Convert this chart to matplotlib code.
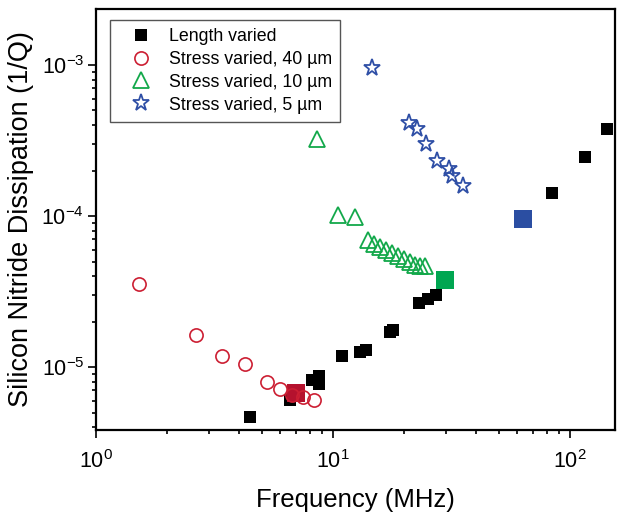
import numpy as np
import matplotlib
matplotlib.use("Agg")
import matplotlib.pyplot as plt
from matplotlib.ticker import FixedLocator, NullFormatter

plt.rcParams["font.family"] = ["Liberation Sans", "DejaVu Sans"]

# Length varied (black squares)
len_freq = [4.47, 6.6, 8.16, 8.73, 8.73, 10.9, 13.0, 13.8, 17.4, 17.9,
            23.1, 25.2, 27.2, 84, 116, 143]
len_diss = [4.67e-6, 6.04e-6, 8.2e-6, 8.7e-6, 7.7e-6, 1.18e-5, 1.26e-5, 1.30e-5,
            1.71e-5, 1.76e-5, 2.65e-5, 2.82e-5, 3.0e-5, 1.42e-4, 2.46e-4, 3.77e-4]

# Stress varied, 40 um (red circles)
s40_freq = [1.52, 2.64, 3.41, 4.27, 5.29, 5.98, 6.69, 7.47, 8.34]
s40_diss = [3.53e-5, 1.62e-5, 1.19e-5, 1.04e-5, 8.0e-6, 7.14e-6, 6.53e-6, 6.33e-6, 6.01e-6]

# Stress varied, 10 um (green triangles)
s10_freq = [8.59, 10.5, 12.4, 14.05, 14.9, 15.8, 16.7, 17.7, 18.8, 19.9,
            21.1, 22.2, 23.3, 24.4]
s10_diss = [3.25e-4, 1.02e-4, 9.9e-5, 6.9e-5, 6.5e-5, 6.2e-5, 5.95e-5, 5.7e-5,
            5.45e-5, 5.2e-5, 4.95e-5, 4.75e-5, 4.65e-5, 4.65e-5]

# Stress varied, 5 um (blue stars)
s5_freq = [14.6, 20.9, 22.6, 24.7, 27.5, 30.9, 31.7, 35.5]
s5_diss = [9.5e-4, 4.15e-4, 3.75e-4, 3.0e-4, 2.3e-4, 2.05e-4, 1.85e-4, 1.58e-4]

# highlighted points (large squares)
hl_freq = [6.98, 29.7, 63.4]
hl_diss = [6.73e-6, 3.77e-5, 9.6e-5]
hl_colors = ["#b5122e", "#00a651", "#2b4ea2"]

RED = "#cc1f33"
GREEN = "#12a84a"
BLUE = "#2f4fa6"

fig = plt.figure(figsize=(6.18, 5.15), dpi=100)
ax = fig.add_axes([96 / 618, 1 - 430 / 515, (615 - 96) / 618, (430 - 9) / 515])

ax.plot(len_freq, len_diss, "s", color="black", ms=9, mew=0, label="Length varied", zorder=3)
ax.plot(hl_freq[0], hl_diss[0], "s", color=hl_colors[0], ms=13, mew=0, zorder=3)
ax.plot(s40_freq, s40_diss, "o", mfc="none", mec=RED, ms=9.5, mew=1.2,
        label="Stress varied, 40 \u00b5m", zorder=4)
ax.plot(s10_freq, s10_diss, "^", mfc="none", mec=GREEN, ms=11.5, mew=1.3,
        label="Stress varied, 10 \u00b5m", zorder=4)
ax.plot(hl_freq[1], hl_diss[1], "s", color=hl_colors[1], ms=13, mew=0, zorder=4)
ax.plot(s5_freq, s5_diss, "*", mfc="none", mec=BLUE, ms=12.5, mew=1.3,
        label="Stress varied, 5 \u00b5m", zorder=4)
ax.plot(hl_freq[2], hl_diss[2], "s", color=hl_colors[2], ms=13, mew=0, zorder=4)

ax.set_xscale("log")
ax.set_yscale("log")
ax.set_xlim(1, 155)
ax.set_ylim(3.83e-6, 2.35e-3)

# minor ticks only inside the drawn decades
ax.xaxis.set_minor_locator(FixedLocator([k * 10.0 ** d for d in (0, 1) for k in range(2, 10)]))
ax.yaxis.set_minor_locator(FixedLocator([k * 10.0 ** d for d in (-6, -5, -4) for k in range(2, 10)]))
ax.xaxis.set_minor_formatter(NullFormatter())
ax.yaxis.set_minor_formatter(NullFormatter())

ax.tick_params(which="both", direction="out", top=False, right=False, width=1.2)
ax.tick_params(which="major", length=5.5, labelsize=15.5)
ax.tick_params(which="minor", length=3)
ax.tick_params(axis="x", which="major", pad=9)
ax.tick_params(axis="y", which="major", pad=3)
for s in ax.spines.values():
    s.set_linewidth(1.6)

ax.set_xlabel("Frequency (MHz)", fontsize=18.5, labelpad=11)
ax.set_ylabel("Silicon Nitride Dissipation (1/Q)", fontsize=19.5, labelpad=5)

leg = ax.legend(loc="upper left", bbox_to_anchor=(0.027, 0.974), borderaxespad=0,
                fontsize=12.8, frameon=True, fancybox=False, framealpha=1,
                edgecolor="#555555", borderpad=0.45, handlelength=2.6,
                handletextpad=0.25, labelspacing=0.33, numpoints=1)
leg.get_frame().set_linewidth(1.0)

fig.savefig("out.png", dpi=100)
